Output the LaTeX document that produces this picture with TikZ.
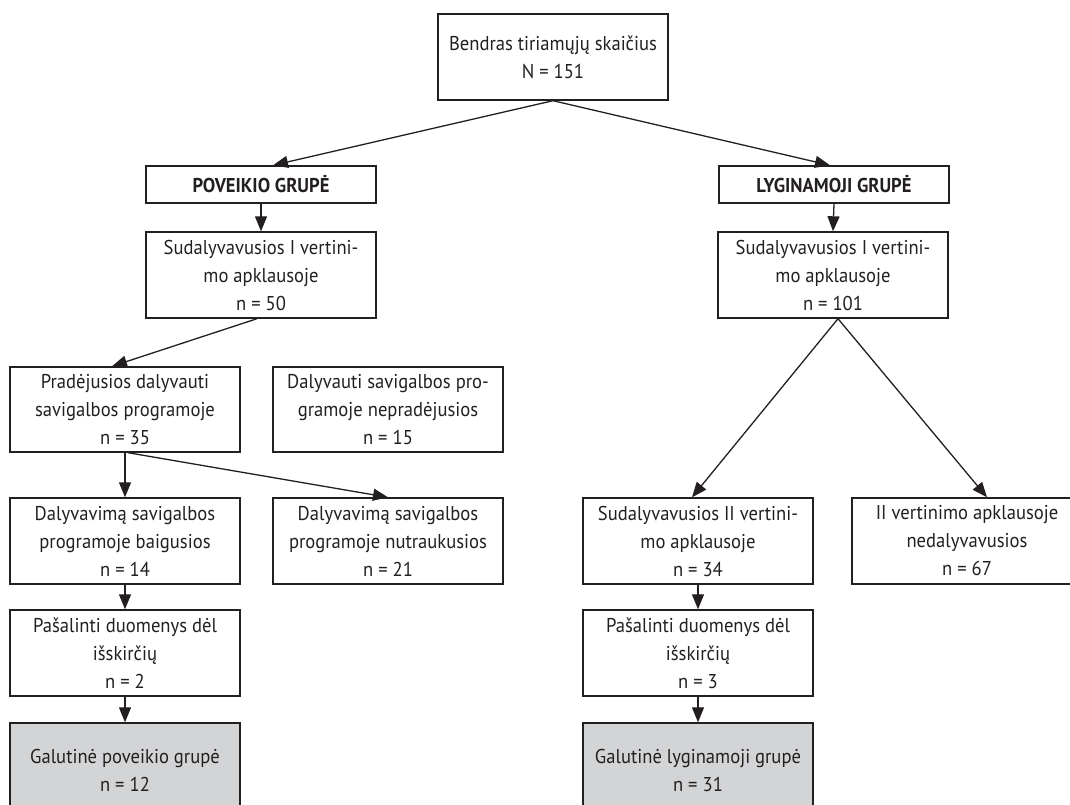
\documentclass[tikz,border=0pt]{standalone}
\usepackage{fontspec}
\setmainfont{PT Sans}[FakeStretch=0.93]
\usetikzlibrary{arrows.meta}
\definecolor{ink}{HTML}{231F20}
\definecolor{boxgray}{HTML}{D3D4D6}
\begin{document}
\begin{tikzpicture}[x=1pt,y=-1pt,
 box/.style={draw=ink, line width=1.4pt, minimum width=230pt, minimum height=86pt, align=center, text=ink, font=\fontsize{20}{28}\selectfont, inner sep=0pt},
 hbox/.style={box, minimum height=37pt, font=\fontsize{20}{28}\selectfont\bfseries},
 fbox/.style={box, fill=boxgray, minimum height=94pt},
 arr/.style={draw=ink, line width=1.3pt, -{Triangle[length=15pt,width=12pt]}}]
\useasboundingbox (0,0) rectangle (1070,805);
\clip (0,0) rectangle (1070,805);
\node[box] (top) at (553,57) {Bendras tiriamųjų skaičius\\N = 151};
\node[hbox] (pov) at (261,184.5) {POVEIKIO GRUPĖ};
\node[hbox] (lyg) at (834,184.5) {LYGINAMOJI GRUPĖ};
\node[box] (s1l) at (261,275) {Sudalyvavusios I vertini-\\mo apklausoje\\n = 50};
\node[box] (s1r) at (833,275) {Sudalyvavusios I vertini-\\mo apklausoje\\n = 101};
\node[box, minimum height=85pt] (prad) at (125,409.5) {Pradėjusios dalyvauti\\savigalbos programoje\\n = 35};
\node[box, minimum height=85pt] (nepr) at (388,409.5) {Dalyvauti savigalbos pro-\\gramoje nepradėjusios\\n = 15};
\node[box] (baig) at (125,541) {Dalyvavimą savigalbos\\programoje baigusios\\n = 14};
\node[box] (nutr) at (388,541) {Dalyvavimą savigalbos\\programoje nutraukusios\\n = 21};
\node[box] (pasl) at (125,653) {Pašalinti duomenys dėl\\išskirčių\\n = 2};
\node[fbox] (gall) at (125,770) {Galutinė poveikio grupė\\n = 12};
\node[box] (s2r) at (698,541) {Sudalyvavusios II vertini-\\mo apklausoje\\n = 34};
\node[box] (ned) at (967,541) {II vertinimo apklausoje\\nedalyvavusios\\n = 67};
\node[box] (pasr) at (698,653) {Pašalinti duomenys dėl\\išskirčių\\n = 3};
\node[fbox] (galr) at (698,770) {Galutinė lyginamoji grupė\\n = 31};
\draw[arr] (top.south) -- ([xshift=12pt]pov.north);
\draw[arr] (top.south) -- ([xshift=-4pt]lyg.north);
\draw[arr] (pov.south) -- (s1l.north);
\draw[arr] (lyg.south) -- (s1r.north);
\draw[arr] ([xshift=-4pt]s1l.south) -- ([xshift=-13pt]prad.north);
\draw[arr] (prad.south) -- (baig.north);
\draw[arr] ([xshift=3pt]prad.south) -- (nutr.north);
\draw[arr] (baig.south) -- (pasl.north);
\draw[arr] (pasl.south) -- (gall.north);
\draw[arr] ([xshift=5pt]s1r.south) -- ([xshift=-6pt]s2r.north);
\draw[arr] ([xshift=5pt]s1r.south) -- ([xshift=20pt]ned.north);
\draw[arr] (s2r.south) -- (pasr.north);
\draw[arr] (pasr.south) -- (galr.north);
\end{tikzpicture}
\end{document}
